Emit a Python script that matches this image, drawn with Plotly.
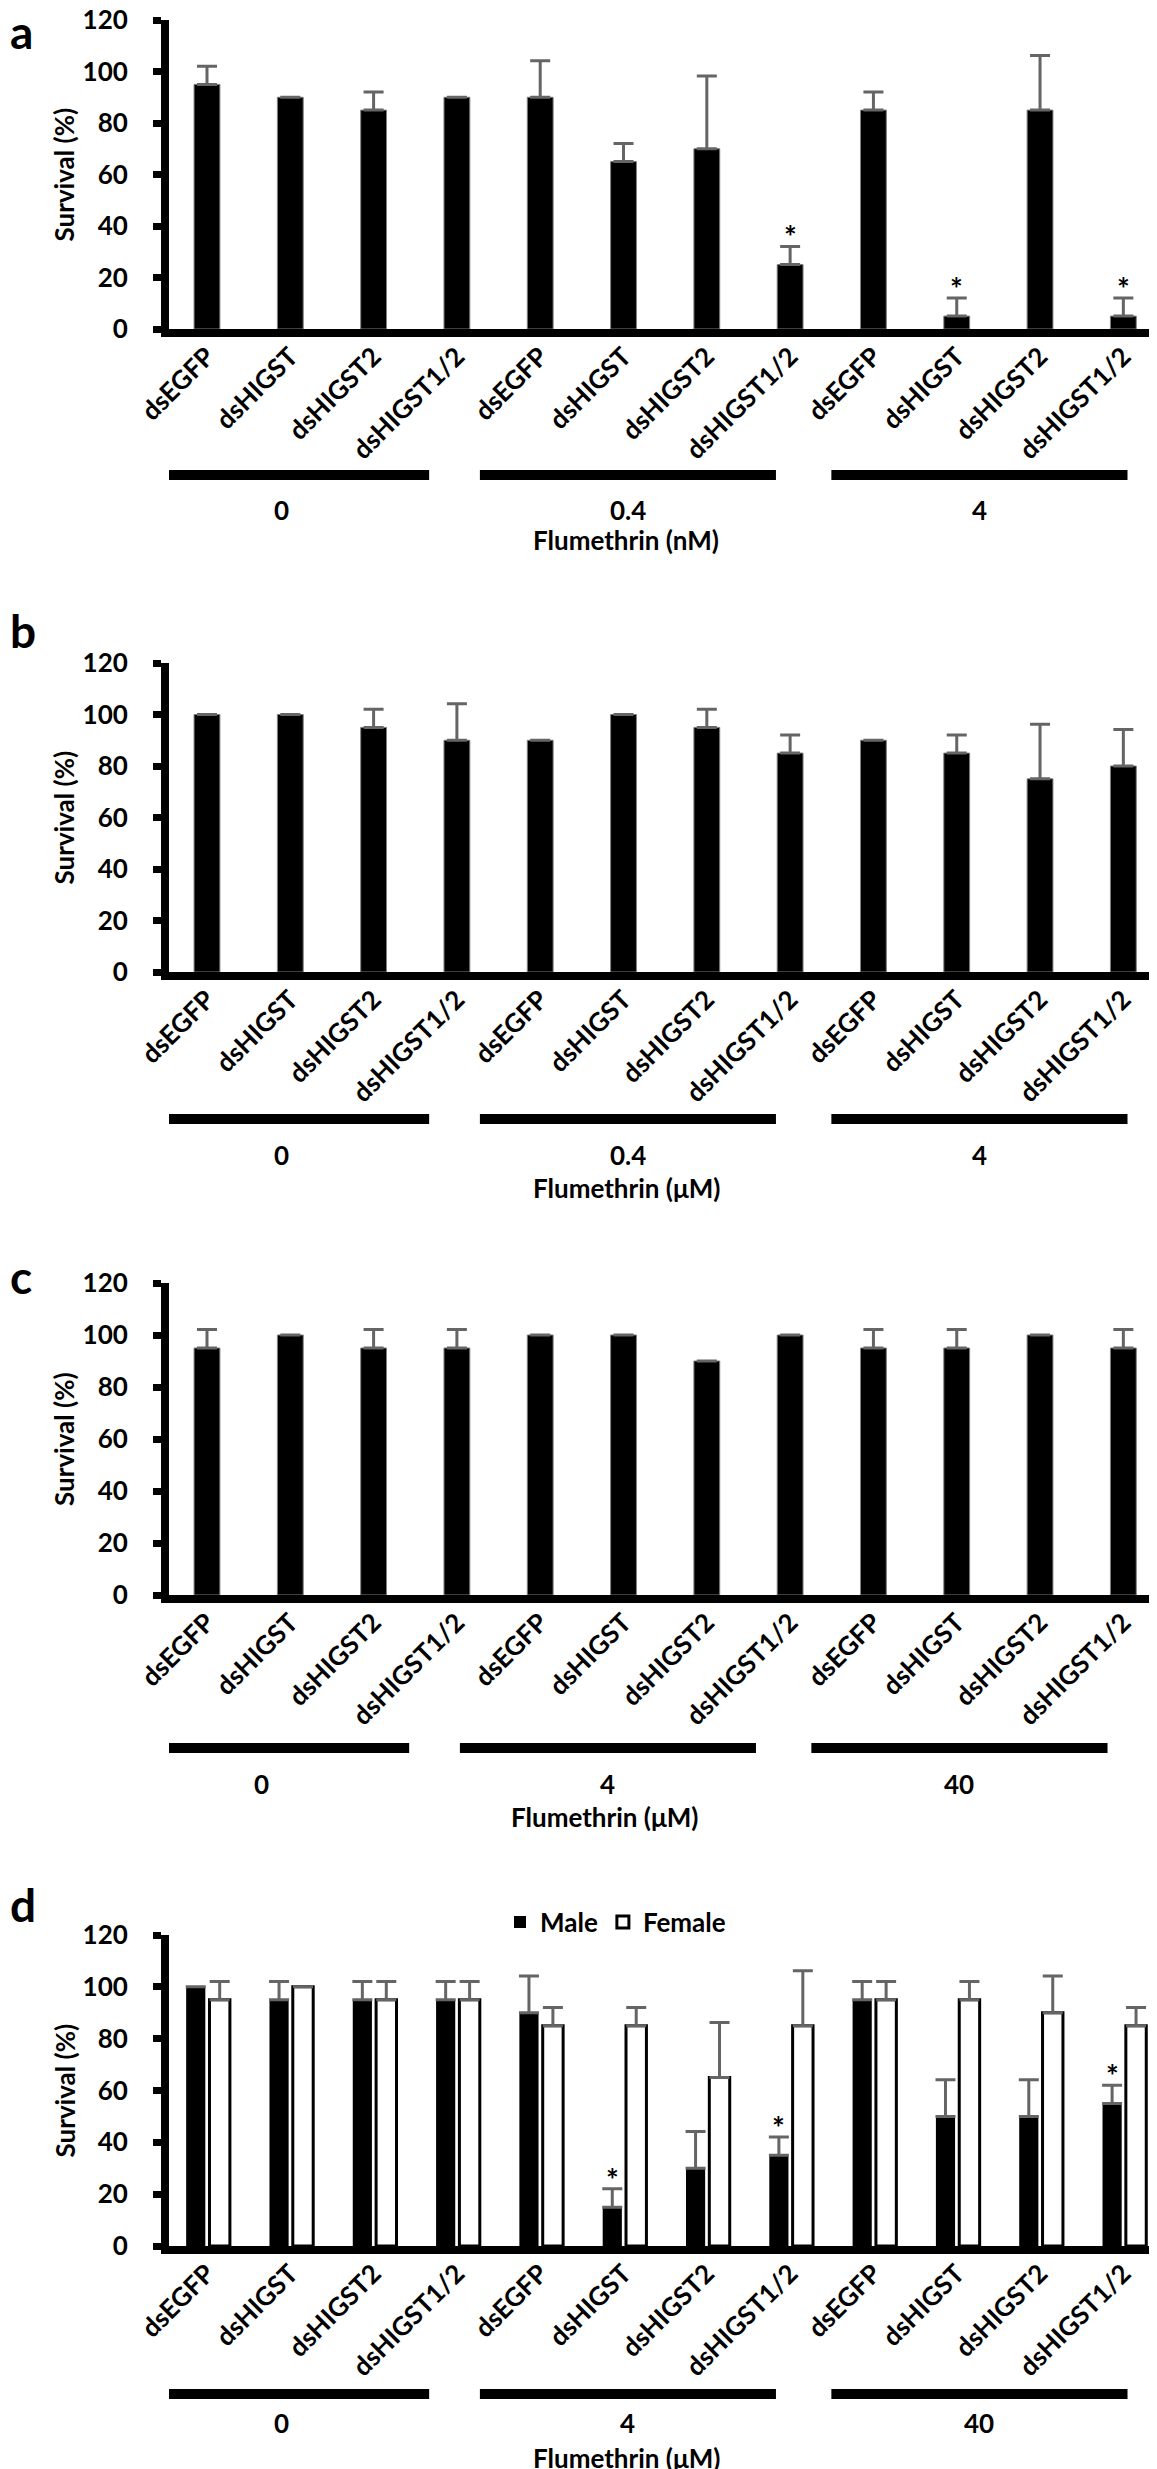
import plotly.graph_objects as go
from plotly.subplots import make_subplots

W, H = 1157, 2469
FONT = "Lato"
ERR_GREY = "#656565"

genes = ["dsEGFP", "dsHIGST", "dsHIGST2", "dsHIGST1/2"] * 3
yticks = [0, 20, 40, 60, 80, 100, 120]

# a - flumethrin in nM
a_conc = ["0", "0.4", "4"]
a_surv = [95, 90, 85, 90, 90, 65, 70, 25, 85, 5, 85, 5]
a_sd = [7.07, 0, 7.07, 0, 14.14, 7.07, 28.28, 7.07, 7.07, 7.07, 21.21, 7.07]
a_sig = [7, 9, 11]

# b - flumethrin in uM
b_conc = ["0", "0.4", "4"]
b_surv = [100, 100, 95, 90, 90, 100, 95, 85, 90, 85, 75, 80]
b_sd = [0, 0, 7.07, 14.14, 0, 0, 7.07, 7.07, 0, 7.07, 21.21, 14.14]
b_sig = []

# c
c_conc = ["0", "4", "40"]
c_surv = [95, 100, 95, 95, 100, 100, 90, 100, 95, 95, 100, 95]
c_sd = [7.07, 0, 7.07, 7.07, 0, 0, 0, 0, 7.07, 7.07, 0, 7.07]
c_sig = []

# d - male / female
d_conc = ["0", "4", "40"]
d_male = [100, 95, 95, 95, 90, 15, 30, 35, 95, 50, 50, 55]
d_male_sd = [0, 7.07, 7.07, 7.07, 14.14, 7.07, 14.14, 7.07, 7.07, 14.14, 14.14, 7.07]
d_male_sig = [5, 7, 11]
d_female = [95, 100, 95, 95, 85, 85, 65, 85, 95, 95, 90, 85]
d_female_sd = [7.07, 0, 7.07, 7.07, 7.07, 7.07, 21.21, 21.21, 7.07, 7.07, 14.14, 7.07]

# group underline spans (category units, drawn by hand in the original)
spans = [(-0.877, 2.667), (3.276, 6.83), (7.495, 11.05)]
spans_c = [(-1.117, 2.427), (3.036, 6.59), (7.255, 10.81)]

# layout in pixels: plot top/bottom, underline, group label, title, letter
panels = [
    dict(letter="a", top=12, bot=321, bar=467, lab=502, tit=532, tx=618, ly=24,
         conc=a_conc, unit="Flumethrin (nM)", spans=spans),
    dict(letter="b", top=655, bot=964, bar=1111, lab=1147, tit=1180, tx=618, ly=622,
         conc=b_conc, unit="Flumethrin (μM)", spans=spans),
    dict(letter="c", top=1275, bot=1587, bar=1740, lab=1776, tit=1809, tx=596, ly=1268,
         conc=c_conc, unit="Flumethrin (μM)", spans=spans_c),
    dict(letter="d", top=1927, bot=2238, bar=2386, lab=2415, tit=2450, tx=618, ly=1896,
         conc=d_conc, unit="Flumethrin (μM)", spans=spans),
]


def font(size):
    return dict(family=FONT, size=size, color="black")


def b(t):
    return f"<b>{t}</b>"


def py(p):
    return 1 - p / H


fig = make_subplots(rows=4, cols=1)
x = list(range(12))


def errbar(sd):
    return dict(type="data", array=sd, arrayminus=[0] * len(sd), symmetric=False,
                color=ERR_GREY, thickness=3, width=10)


def stars(row, xs, tops):
    for xv, yv in zip(xs, tops):
        fig.add_annotation(x=xv, y=yv, text=b("*"), showarrow=False, xanchor="center",
                           yanchor="bottom", yshift=-10, font=font(30), row=row, col=1)


def note(text, xv, yv, size=26, xref="paper", **kw):
    kw.setdefault("xanchor", "center")
    fig.add_annotation(xref=xref, yref="paper", x=xv, y=yv, text=b(text), showarrow=False,
                       yanchor="middle", font=font(size), **kw)


for row, surv, sd, sig in [(1, a_surv, a_sd, a_sig), (2, b_surv, b_sd, b_sig),
                           (3, c_surv, c_sd, c_sig)]:
    fig.add_trace(go.Bar(x=x, y=surv, width=0.31,
                         marker=dict(color="black", line=dict(color="#7f7f7f", width=1)),
                         error_y=errbar(sd), showlegend=False), row=row, col=1)
    stars(row, sig, [surv[i] + sd[i] for i in sig])

m_off, m_w = -0.25, 0.23
f_off, f_w = 0.03, 0.245
fig.add_trace(go.Bar(x=x, y=d_male, name=b("Male"), offset=m_off, width=m_w,
                     marker=dict(color="black", line=dict(color="black", width=0)),
                     error_y=errbar(d_male_sd)), row=4, col=1)
fig.add_trace(go.Bar(x=x, y=d_female, name=b("Female"), offset=f_off, width=f_w,
                     marker=dict(color="white", line=dict(color="black", width=3)),
                     error_y=errbar(d_female_sd)), row=4, col=1)
stars(4, [i + m_off + m_w / 2 for i in d_male_sig], [d_male[i] + d_male_sd[i] for i in d_male_sig])

for r, p in enumerate(panels, start=1):
    fig.update_xaxes(row=r, col=1, domain=[161 / W, 1], range=[-0.456, 11.5],
                     tickvals=x, ticktext=[b(g) for g in genes], tickangle=-45, ticks="",
                     ticklabelstandoff=-6, ticklabeloverflow="allow",
                     showline=True, linewidth=8, linecolor="black",
                     showgrid=False, zeroline=False, tickfont=font(26), automargin=False)
    fig.update_yaxes(row=r, col=1, domain=[py(p["bot"]), py(p["top"])], range=[0, 120],
                     tickvals=yticks, ticktext=[b(v) for v in yticks],
                     ticks="outside", ticklen=8, tickwidth=7, ticklabelstandoff=20,
                     ticklabeloverflow="allow",
                     tickcolor="black", showline=True, linewidth=8, linecolor="black",
                     showgrid=False, zeroline=False, tickfont=font(26), automargin=False)
    xr = "x" if r == 1 else f"x{r}"
    for (s, e), lab in zip(p["spans"], p["conc"]):
        fig.add_shape(type="line", xref=xr, yref="paper", x0=s, x1=e,
                      y0=py(p["bar"]), y1=py(p["bar"]), line=dict(color="black", width=10))
        note(lab, (s + e) / 2, py(p["lab"]), xref=xr)
    note(p["unit"], p["tx"] / W, py(p["tit"]))
    note(p["letter"], 0, py(p["ly"]), size=46, xanchor="left")
    note("Survival (%)", 56 / W, py((p["top"] + p["bot"]) / 2), textangle=-90)

fig.update_layout(
    width=W, height=H, margin=dict(l=0, r=0, t=0, b=0, pad=0, autoexpand=False),
    paper_bgcolor="white", plot_bgcolor="white", barmode="group",
    showlegend=True,
    legend=dict(orientation="h", x=492 / W, xanchor="left", y=py(1914), yanchor="middle",
                font=font(26), bgcolor="rgba(0,0,0,0)"),
)

fig.write_html("out.html")
